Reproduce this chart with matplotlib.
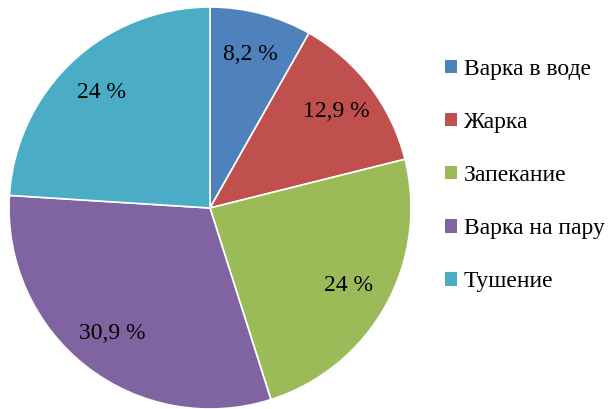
import matplotlib.pyplot as plt
import matplotlib.patches as mpatches

categories = ['Варка в воде', 'Жарка', 'Запекание', 'Варка на пару', 'Тушение']
values = [8.2, 12.9, 24, 30.9, 24]
value_labels = ['8,2 %', '12,9 %', '24 %', '30,9 %', '24 %']
colors = ['#4F81BD', '#C0504D', '#9BBB59', '#8064A2', '#4BACC6']

plt.rcParams['font.family'] = ['Liberation Serif', 'DejaVu Serif']

fig = plt.figure(figsize=(6.09, 4.09), dpi=100)
ax = fig.add_axes([9 / 609, 0.0, 402 / 609, 402 / 409])

wedges, texts = ax.pie(values, colors=colors, startangle=90, counterclock=False,
                       labels=value_labels, labeldistance=0.79,
                       wedgeprops=dict(edgecolor='white', linewidth=1.2))
for t in texts:
    t.set_horizontalalignment('center')
    t.set_verticalalignment('center')
    t.set_fontsize(17)
ax.set_xlim(-1, 1)
ax.set_ylim(-1, 1)
ax.set_aspect('equal')
ax.axis('off')

handles = [mpatches.Patch(facecolor=c, edgecolor='none') for c in colors]
fig.legend(handles, categories, loc='upper left', bbox_to_anchor=(426 / 609, 1 - 40 / 409),
           frameon=False, fontsize=17, labelspacing=1.36,
           handlelength=0.5, handleheight=0.5, handletextpad=0.3,
           borderpad=0.3)

fig.savefig('out.png', dpi=100)
